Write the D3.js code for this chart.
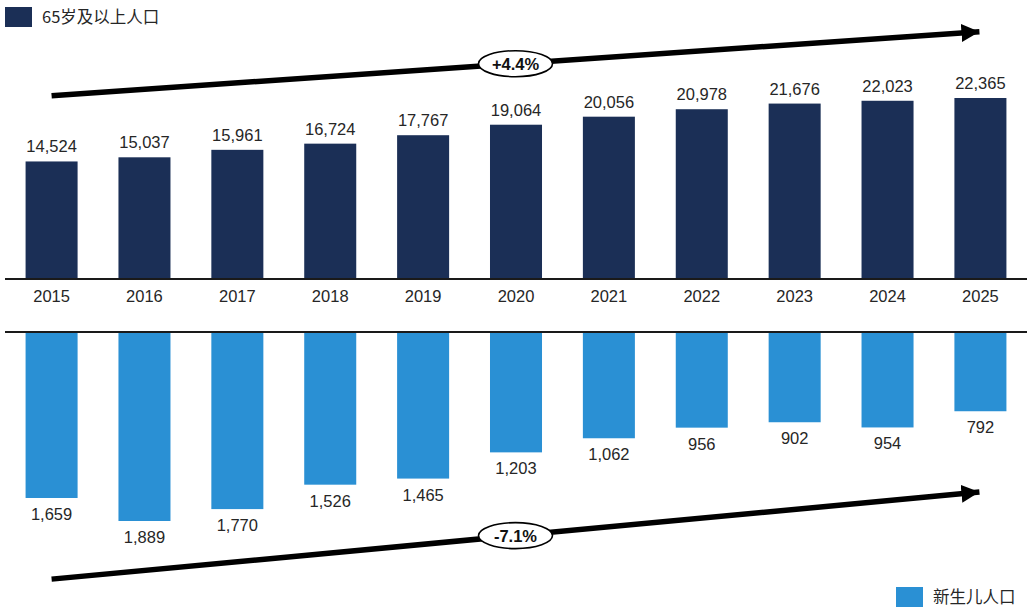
<!DOCTYPE html>
<html>
<head>
<meta charset="utf-8">
<script src="https://cdn.jsdelivr.net/npm/d3@7"></script>
<style>
  body { margin: 0; background: #fff; }
  svg { display: block; }
</style>
</head>
<body>
<div id="chart"></div>
<script>
// data
const years = ["2015", "2016", "2017", "2018", "2019", "2020", "2021", "2022", "2023", "2024", "2025"];
const elderly = [14524, 15037, 15961, 16724, 17767, 19064, 20056, 20978, 21676, 22023, 22365];
const births = [1659, 1889, 1770, 1526, 1465, 1203, 1062, 956, 902, 954, 792];
const seriesNames = ["65岁及以上人口", "新生儿人口"];
const growthLabels = ["+4.4%", "-7.1%"];
// arrow ends in data units: [startYear, startValue, endYear, endValue]
const topArrow = ["2015", 22650, "2025", 30560];
const bottomArrow = ["2015", 2470, "2025", 1600];

const width = 1034, height = 608;
const navy = "#1b2f56", blue = "#2a90d4", ink = "#262626";
const numFont = "'Liberation Sans', Arial, sans-serif";
const cjkFont = "'Noto Sans CJK SC', 'Liberation Sans', sans-serif";

const svg = d3.select("#chart").append("svg")
  .attr("width", width)
  .attr("height", height);

const x = d3.scaleBand()
  .domain(years)
  .range([7, 1025])
  .paddingInner(0.44)
  .paddingOuter(0.2);

const yTop = d3.scaleLinear().domain([0, 22365]).range([279, 98]);
const yBot = d3.scaleLinear().domain([0, 1889]).range([332, 521]);

const fmt = d3.format(",");
const cx = d => x(d) + x.bandwidth() / 2;

// arrowhead
svg.append("defs").append("marker")
  .attr("id", "head")
  .attr("viewBox", "0 0 10 10")
  .attr("refX", 10)
  .attr("refY", 5)
  .attr("markerUnits", "userSpaceOnUse")
  .attr("markerWidth", 18)
  .attr("markerHeight", 18)
  .attr("orient", "auto")
  .append("path")
  .attr("d", "M0,0L10,5L0,10Z")
  .attr("fill", "#000");

// top bars
svg.append("g")
  .selectAll("rect")
  .data(elderly)
  .join("rect")
  .attr("x", (d, i) => x(years[i]))
  .attr("y", d => yTop(d))
  .attr("width", x.bandwidth())
  .attr("height", d => yTop(0) - yTop(d))
  .attr("fill", navy);

svg.append("g")
  .attr("font-family", numFont)
  .attr("font-size", 16.5)
  .attr("fill", ink)
  .attr("text-anchor", "middle")
  .selectAll("text")
  .data(elderly)
  .join("text")
  .attr("x", (d, i) => cx(years[i]))
  .attr("y", d => yTop(d) - 9)
  .text(d => fmt(d));

// bottom bars
svg.append("g")
  .selectAll("rect")
  .data(births)
  .join("rect")
  .attr("x", (d, i) => x(years[i]))
  .attr("y", yBot(0))
  .attr("width", x.bandwidth())
  .attr("height", d => yBot(d) - yBot(0))
  .attr("fill", blue);

svg.append("g")
  .attr("font-family", numFont)
  .attr("font-size", 16.5)
  .attr("fill", ink)
  .attr("text-anchor", "middle")
  .selectAll("text")
  .data(births)
  .join("text")
  .attr("x", (d, i) => cx(years[i]))
  .attr("y", d => yBot(d) + 22)
  .text(d => fmt(d));

// baselines
[yTop(0), yBot(0)].forEach(yy => {
  svg.append("line")
    .attr("x1", 5).attr("x2", 1027)
    .attr("y1", yy).attr("y2", yy)
    .attr("stroke", "#1a1a1a")
    .attr("stroke-width", 2);
});

// year labels
svg.append("g")
  .attr("font-family", numFont)
  .attr("font-size", 16.5)
  .attr("fill", ink)
  .attr("text-anchor", "middle")
  .selectAll("text")
  .data(years)
  .join("text")
  .attr("x", d => cx(d))
  .attr("y", 302)
  .text(d => d);

// trend arrows with growth labels
function trend(a, yScale, label) {
  const x1 = cx(a[0]), y1 = yScale(a[1]);
  const x2 = cx(a[2]) - 1, y2 = yScale(a[3]);
  svg.append("line")
    .attr("x1", x1).attr("y1", y1)
    .attr("x2", x2).attr("y2", y2)
    .attr("stroke", "#000")
    .attr("stroke-width", 5.5)
    .attr("marker-end", "url(#head)");
  const mx = x1 + (x2 - x1) * 0.5, my = y1 + (y2 - y1) * 0.5;
  svg.append("ellipse")
    .attr("cx", mx).attr("cy", my)
    .attr("rx", 37).attr("ry", 13)
    .attr("fill", "#fff")
    .attr("stroke", "#000")
    .attr("stroke-width", 1.6);
  svg.append("text")
    .attr("x", mx).attr("y", my)
    .attr("dy", "0.36em")
    .attr("text-anchor", "middle")
    .attr("font-family", numFont)
    .attr("font-weight", "bold")
    .attr("font-size", 16.5)
    .attr("fill", "#111")
    .text(label);
}
trend(topArrow, yTop, growthLabels[0]);
trend(bottomArrow, yBot, growthLabels[1]);

// legends
const legend = [
  {name: seriesNames[0], color: navy, x: 5, y: 7},
  {name: seriesNames[1], color: blue, x: 896, y: 587}
];
legend.forEach(l => {
  svg.append("rect")
    .attr("x", l.x).attr("y", l.y)
    .attr("width", 27).attr("height", 20)
    .attr("fill", l.color);
  svg.append("text")
    .attr("x", l.x + 37).attr("y", l.y + 10)
    .attr("dy", "0.36em")
    .attr("font-family", cjkFont)
    .attr("font-size", 16.5)
    .attr("fill", ink)
    .text(l.name);
});
</script>
</body>
</html>
